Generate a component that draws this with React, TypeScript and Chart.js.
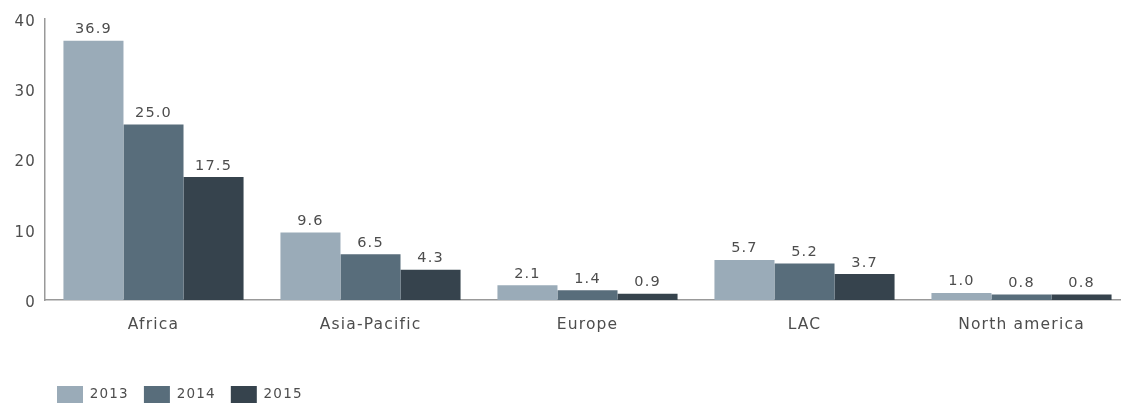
import React, { useEffect, useRef } from "react";
import { Chart, registerables } from "chart.js";

Chart.register(...registerables);

const categories = ["Africa", "Asia-Pacific", "Europe", "LAC", "North america"];
const seriesNames = ["2013", "2014", "2015"];
const values2013 = [36.9, 9.6, 2.1, 5.7, 1.0];
const values2014 = [25.0, 6.5, 1.4, 5.2, 0.8];
const values2015 = [17.5, 4.3, 0.9, 3.7, 0.8];
const seriesColors = ["#9aabb8", "#586d7b", "#36434d"];
const yTicks = [0, 10, 20, 30, 40];

const FONT = "'DejaVu Sans', sans-serif";
const TEXT = "#4d4d4d";

const spacing = {
  id: "spacing",
  beforeDraw(chart: any) {
    (chart.ctx as any).letterSpacing = "1.2px";
  },
  afterDraw(chart: any) {
    (chart.ctx as any).letterSpacing = "0px";
  },
};

const valueLabels = {
  id: "valueLabels",
  afterDatasetsDraw(chart: any) {
    const ctx = chart.ctx;
    ctx.save();
    ctx.letterSpacing = "1.2px";
    ctx.font = `14.5px ${FONT}`;
    ctx.fillStyle = TEXT;
    ctx.textAlign = "center";
    ctx.textBaseline = "bottom";
    chart.data.datasets.forEach((ds: any, i: number) => {
      const meta = chart.getDatasetMeta(i);
      meta.data.forEach((bar: any, j: number) => {
        const v = ds.data[j];
        ctx.fillText(Number(v).toFixed(1), bar.x, bar.y - 4);
      });
    });
    ctx.restore();
  },
};

const legendShift = {
  id: "legendShift",
  afterLayout(chart: any) {
    const l = chart.legend;
    if (l) {
      l.left = 42;
      l.right = l.left + l.width;
    }
  },
};

export default function App() {
  const ref = useRef<HTMLCanvasElement | null>(null);
  useEffect(() => {
    if (!ref.current) return;
    const data = [values2013, values2014, values2015];
    const chart = new Chart(ref.current, {
      type: "bar",
      data: {
        labels: categories,
        datasets: seriesNames.map((name, i) => ({
          label: name,
          data: data[i],
          backgroundColor: seriesColors[i],
          borderWidth: 0,
          categoryPercentage: 0.83,
          barPercentage: 1,
        })),
      },
      options: {
        animation: false,
        responsive: false,
        layout: { padding: { top: 19, right: 1, left: 0, bottom: 0 } },
        plugins: {
          tooltip: { enabled: false },
          legend: {
            position: "bottom",
            align: "start",
            labels: {
              boxWidth: 26,
              boxHeight: 17,
              padding: 15,
              color: TEXT,
              font: { family: FONT, size: 13.5 },
            },
          },
        },
        scales: {
          x: {
            grid: { display: false, drawTicks: false },
            border: { display: true, color: "#999999", width: 1.5 },
            ticks: {
              color: TEXT,
              font: { family: FONT, size: 15.5 },
              padding: 16,
              maxRotation: 0,
            },
            afterFit: (scale: any) => {
              scale.height = 71;
            },
          },
          y: {
            min: 0,
            max: 40,
            afterBuildTicks: (scale: any) => {
              scale.ticks = yTicks.map((v) => ({ value: v }));
            },
            grid: { display: false, drawTicks: false },
            border: { display: true, color: "#999999", width: 1.5 },
            ticks: {
              color: TEXT,
              font: { family: FONT, size: 15 },
              padding: 9,
              labelOffset: 3,
            },
            afterFit: (scale: any) => {
              scale.width = 45;
            },
          },
        },
      },
      plugins: [spacing, valueLabels, legendShift],
    });
    return () => chart.destroy();
  }, []);

  return (
    <div
      style={{
        position: "fixed",
        left: 0,
        top: 0,
        width: 1121,
        height: 407,
        overflow: "hidden",
        background: "#ffffff",
      }}
    >
      <canvas ref={ref} width={1131} height={413} style={{ display: "block" }} />
    </div>
  );
}
